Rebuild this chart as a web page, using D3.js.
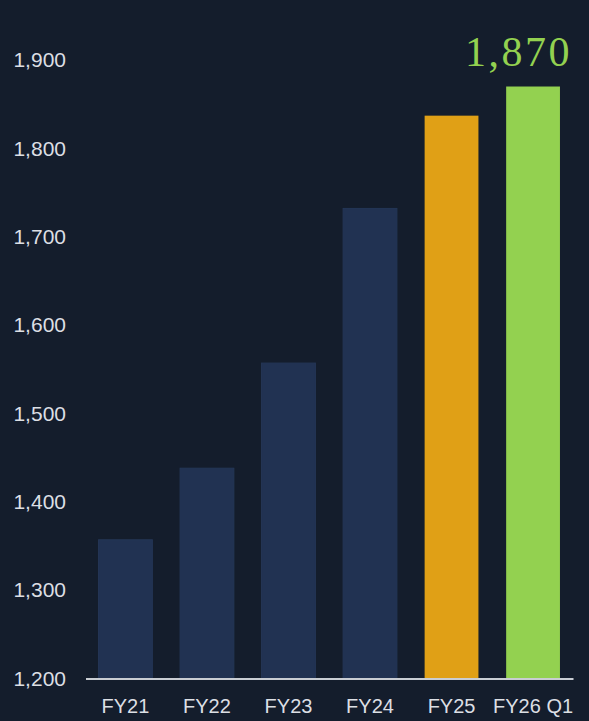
<!DOCTYPE html>
<html>
<head>
<meta charset="utf-8">
<script src="https://cdn.jsdelivr.net/npm/d3@7"></script>
<style>
  html, body { margin: 0; padding: 0; background: #141d2c; }
  svg { display: block; }
</style>
</head>
<body>
<div id="chart"></div>
<script>
const w = 589;
const h = 721;

const categories = ["FY21", "FY22", "FY23", "FY24", "FY25", "FY26 Q1"];
const values = [1357, 1438, 1557, 1732, 1837, 1870];
const barColours = ["#213252", "#213252", "#213252", "#213252", "#e0a016", "#93d150"];
const yTicks = [1200, 1300, 1400, 1500, 1600, 1700, 1800, 1900];
const highlightLabel = "1,870";

const svg = d3.select("#chart")
    .append("svg")
    .attr("width", w)
    .attr("height", h)
    .style("background", "#141d2c");

const x = d3.scaleBand()
    .domain(categories)
    .range([85.5, 573])
    .paddingInner(0.34)
    .paddingOuter(0.16);

const y = d3.scaleLinear()
    .domain([1200, 1900])
    .range([678.5, 60]);

// bars
svg.selectAll("rect.bar")
    .data(values)
    .enter()
    .append("rect")
    .attr("class", "bar")
    .attr("x", function(d, i) { return x(categories[i]); })
    .attr("y", function(d) { return y(d); })
    .attr("width", x.bandwidth())
    .attr("height", function(d) { return y(1200) - y(d); })
    .attr("fill", function(d, i) { return barColours[i]; })
    .attr("stroke", function(d, i) { return i < 4 ? "#243656" : "none"; })
    .attr("stroke-width", 1);

// y axis labels
const yAxis = d3.axisLeft(y)
    .tickValues(yTicks)
    .tickSize(0)
    .tickPadding(0)
    .tickFormat(d3.format(","));

const yg = svg.append("g")
    .attr("transform", "translate(66,0)")
    .call(yAxis);
yg.select(".domain").remove();
yg.selectAll("text")
    .attr("fill", "#dcdfe4")
    .style("font-family", "'Liberation Sans', Arial, sans-serif")
    .style("font-size", "21px");

// x axis
const xAxis = d3.axisBottom(x)
    .tickSize(0)
    .tickPadding(20);

const xg = svg.append("g")
    .attr("transform", "translate(0," + y(1200) + ")")
    .call(xAxis);
xg.select(".domain")
    .attr("stroke", "#c9cdd3")
    .attr("stroke-width", 2);
xg.selectAll("text")
    .attr("fill", "#dcdfe4")
    .style("font-family", "'Liberation Sans', Arial, sans-serif")
    .style("font-size", "20px");

// highlight value
svg.append("text")
    .attr("x", 572)
    .attr("y", y(values[values.length - 1]) - 21)
    .attr("text-anchor", "end")
    .attr("fill", "#93d150")
    .style("font-family", "'Liberation Serif', 'DejaVu Serif', serif")
    .style("font-size", "42px")
    .style("letter-spacing", "2.5px")
    .text(highlightLabel);
</script>
</body>
</html>
